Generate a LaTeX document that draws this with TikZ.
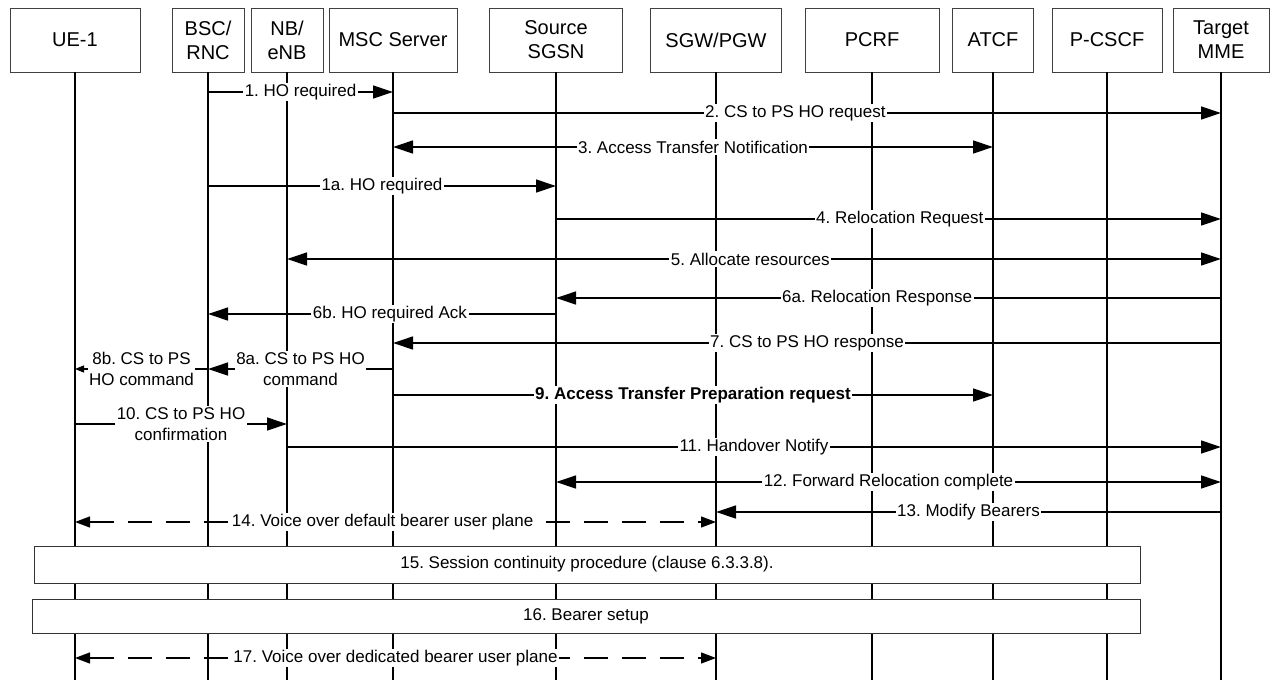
\documentclass[tikz,border=0pt]{standalone}
\usepackage{fontspec}
\setmainfont{Liberation Sans}
\usetikzlibrary{arrows.meta,positioning,calc}
\frenchspacing

\tikzset{
    entity/.style={draw=black!75, line width=0.9pt, minimum height=64pt, inner sep=0pt, align=center, font=\fontsize{20pt}{24pt}\selectfont},
    lifeline/.style={line width=1.3pt},
    msg/.style={line width=1.3pt, -{Triangle[length=20pt,width=13pt]}},
    bimsg/.style={line width=1.3pt, {Triangle[length=20pt,width=13pt]}-{Triangle[length=20pt,width=13pt]}},
    upmsg/.style={line width=1.3pt, dash pattern=on 24pt off 14pt, {Triangle[length=15pt,width=11pt]}-{Triangle[length=15pt,width=11pt]}},
    lbl/.style={fill=white, inner sep=1.5pt, align=center, font=\fontsize{17pt}{21pt}\selectfont},
    procbox/.style={draw=black!80, line width=0.9pt, fill=white, inner sep=0pt, font=\fontsize{17pt}{21pt}\selectfont},
}

\begin{document}
\begin{tikzpicture}[x=1pt, y=-1pt]
    \useasboundingbox (0,0) rectangle (1270,680);

    % Entities
    \node [entity, minimum width=130pt] (ue)   at (75,40)   {UE-1};
    \node [entity, minimum width=72pt]  (bsc)  at (208,40)  {BSC/\\RNC};
    \node [entity, minimum width=72pt]  (nb)   at (287,40)  {NB/\\eNB};
    \node [entity, minimum width=128pt] (msc)  at (393,40)  {MSC Server};
    \node [entity, minimum width=133pt] (sgsn) at (556,40)  {Source\\SGSN};
    \node [entity, minimum width=131pt] (sgw)  at (716,40)  {SGW/PGW};
    \node [entity, minimum width=134pt] (pcrf) at (872,40)  {PCRF};
    \node [entity, minimum width=81pt]  (atcf) at (993,40)  {ATCF};
    \node [entity, minimum width=110pt] (pcscf) at (1107,40) {P-CSCF};
    \node [entity, minimum width=96pt]  (mme)  at (1221,40) {Target\\MME};

    % Lifelines
    \coordinate (bot) at (0,680);
    \foreach \e in {ue,bsc,nb,msc,sgsn,sgw,pcrf,atcf,pcscf,mme}
        \draw [lifeline] (\e.south) -- (\e.south |- bot);

    % Message rows
    \coordinate (r1)  at (0,92);
    \coordinate (r2)  at (0,113);
    \coordinate (r3)  at (0,147);
    \coordinate (r1a) at (0,186);
    \coordinate (r4)  at (0,219);
    \coordinate (r5)  at (0,259);
    \coordinate (r6a) at (0,298);
    \coordinate (r6b) at (0,314);
    \coordinate (r7)  at (0,343);
    \coordinate (r8)  at (0,369);
    \coordinate (r9)  at (0,395);
    \coordinate (r10) at (0,424);
    \coordinate (r11) at (0,447);
    \coordinate (r12) at (0,482);
    \coordinate (r13) at (0,512);
    \coordinate (r14) at (0,522);
    \coordinate (r17) at (0,658);

    % Messages
    \draw [msg] (bsc |- r1) -- node[lbl] (t1) {1. HO required} (msc |- r1);
    \draw [msg] (msc |- r2) -- node[lbl, pos=0.486] (t2) {2. CS to PS HO request} (mme |- r2);
    \draw [bimsg] (msc |- r3) -- node[lbl] (t3) {3. Access Transfer Notification} (atcf |- r3);
    \draw [msg] (bsc |- r1a) -- node[lbl] (t1a) {1a. HO required} (sgsn |- r1a);
    \draw [msg] (sgsn |- r4) -- node[lbl, pos=0.517] (t4) {4. Relocation Request} (mme |- r4);
    \draw [bimsg] (nb |- r5) -- node[lbl, pos=0.496] (t5) {5. Allocate resources} (mme |- r5);
    \draw [msg] (mme |- r6a) -- node[lbl, pos=0.517] (t6a) {6a. Relocation Response} (sgsn |- r6a);
    \draw [msg] (sgsn |- r6b) -- node[lbl, pos=0.477] (t6b) {6b. HO required Ack} (bsc |- r6b);
    \draw [msg] (mme |- r7) -- node[lbl] (t7) {7. CS to PS HO response} (msc |- r7);
    \draw [msg] (msc |- r8) -- node[lbl] (t8a) {8a. CS to PS HO\\command} (bsc |- r8);
    \draw [line width=1.3pt, -{Triangle[length=9pt,width=7pt]}] (bsc |- r8) -- node[lbl] (t8b) {8b. CS to PS\\HO command} (ue |- r8);
    \draw [msg] (msc |- r9) -- node[lbl, font=\fontsize{17pt}{21pt}\selectfont\bfseries] (t9) {9. Access Transfer Preparation request} (atcf |- r9);
    \draw [msg] (ue |- r10) -- node[lbl] (t10) {10. CS to PS HO\\confirmation} (nb |- r10);
    \draw [msg] (nb |- r11) -- node[lbl] (t11) {11. Handover Notify} (mme |- r11);
    \draw [bimsg] (sgsn |- r12) -- node[lbl] (t12) {12. Forward Relocation complete} (mme |- r12);
    \draw [msg] (mme |- r13) -- node[lbl] (t13) {13. Modify Bearers} (sgw |- r13);
    \draw [upmsg] (ue |- r14) -- node[lbl, pos=0.48] (t14) {14. Voice over default bearer user plane} (sgw |- r14);

    % Procedures
    \node [procbox, minimum width=1106pt, minimum height=37pt] (p15) at (587,564.5) {15. Session continuity procedure (clause 6.3.3.8).};
    \node [procbox, minimum width=1108pt, minimum height=34pt] (p16) at (586,616) {16. Bearer setup};

    \draw [upmsg] (ue |- r17) -- node[lbl] (t17) {17. Voice over dedicated bearer user plane} (sgw |- r17);
\end{tikzpicture}
\end{document}
